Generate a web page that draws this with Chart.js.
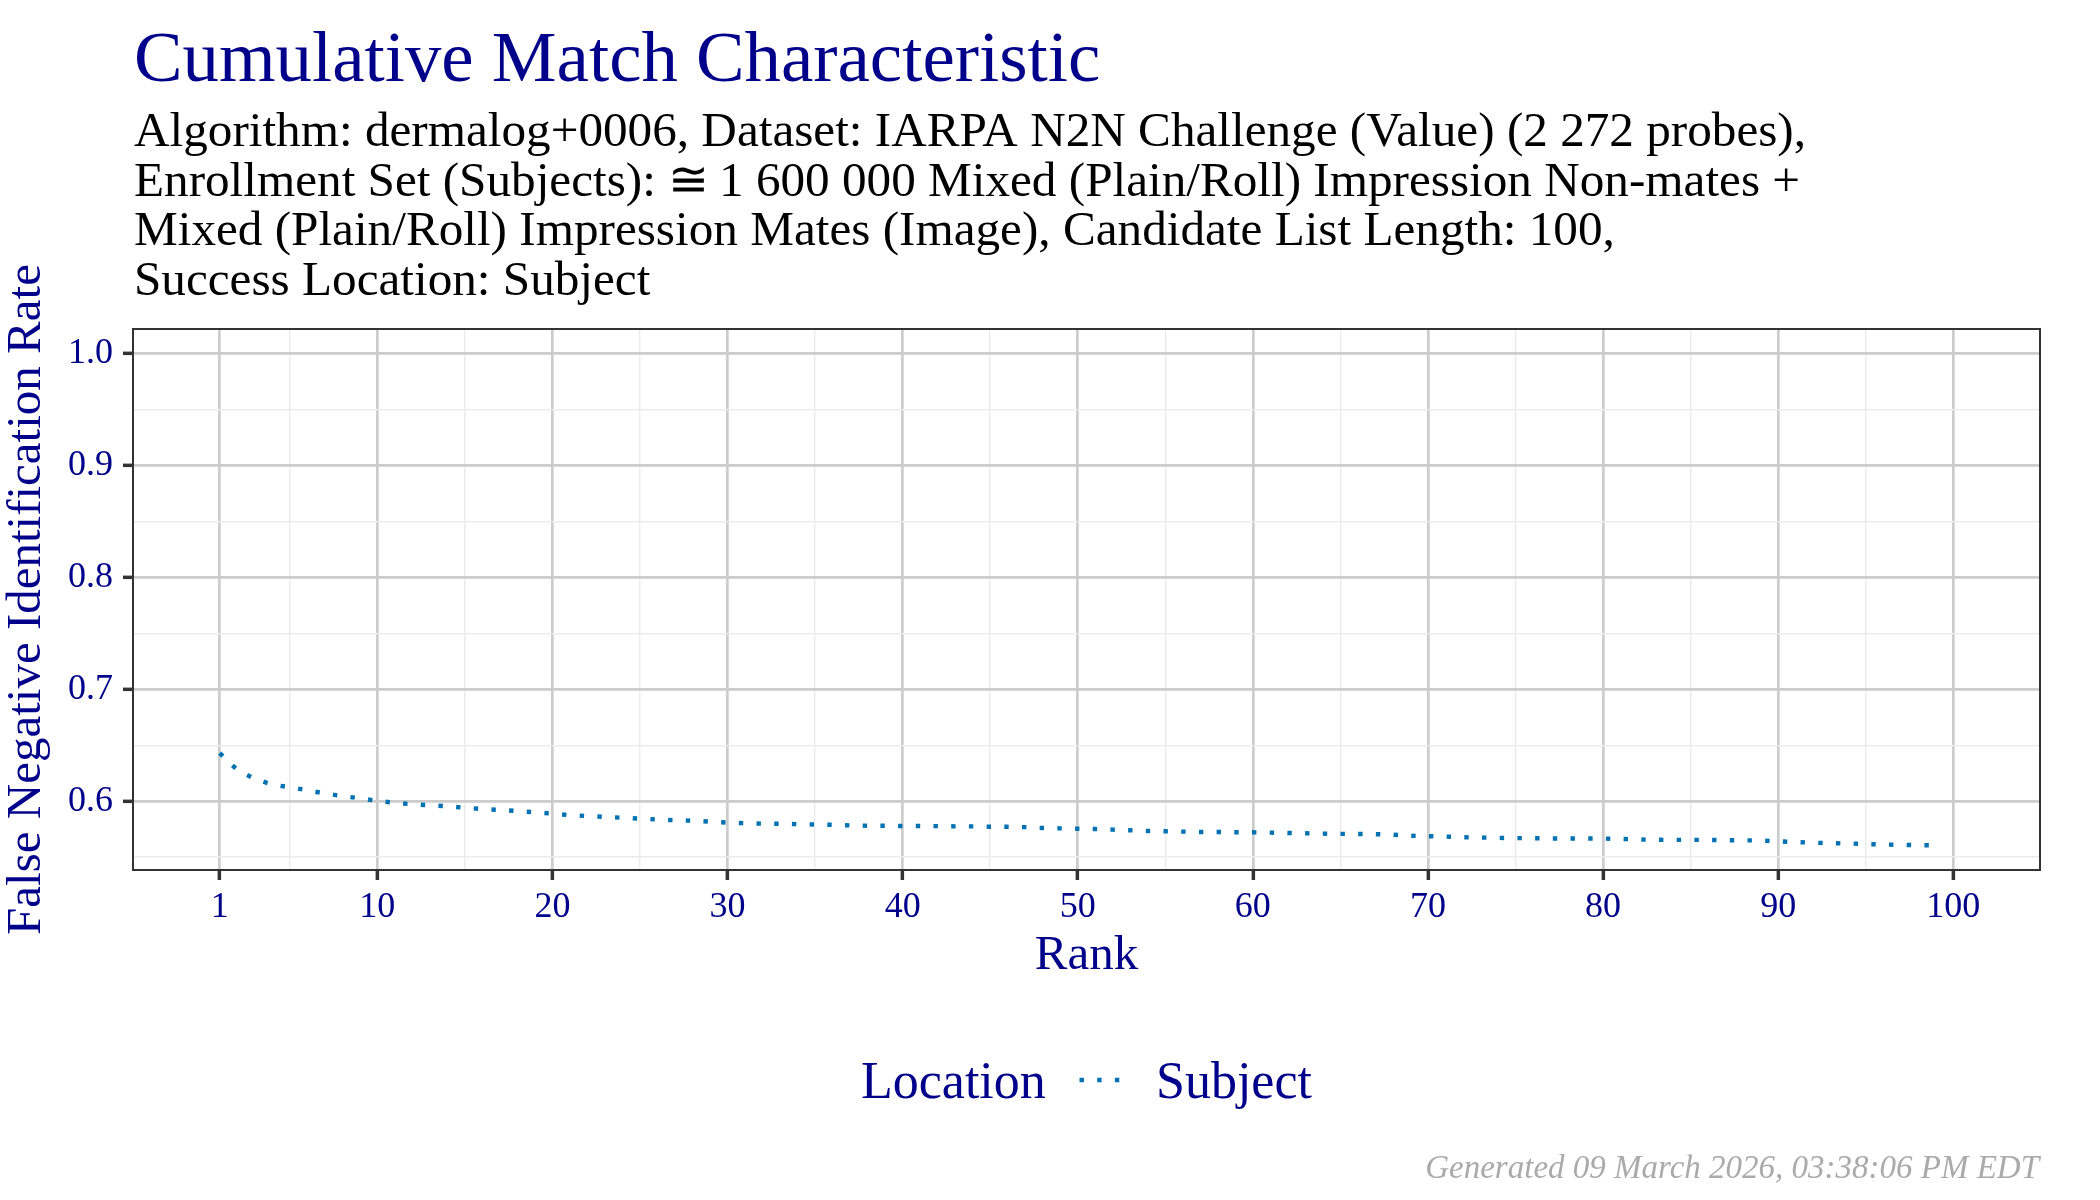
<!DOCTYPE html>
<html><head><meta charset="utf-8">
<script src="https://cdn.jsdelivr.net/npm/chart.js@4.4.1/dist/chart.umd.min.js"></script>
<style>html,body{margin:0;padding:0;background:#fff;} canvas{display:block;}</style>
</head><body>
<canvas id="c" width="2100" height="1200"></canvas>
<script>
const TITLE = "Cumulative Match Characteristic";
const SUBTITLE_LINES = [
  "Algorithm: dermalog+0006, Dataset: IARPA N2N Challenge (Value) (2 272 probes),",
  "Enrollment Set (Subjects): \u2245\u20091 600 000 Mixed (Plain/Roll) Impression Non-mates +",
  "Mixed (Plain/Roll) Impression Mates (Image), Candidate List Length: 100,",
  "Success Location: Subject"
];
const FOOTER = "Generated 09 March 2026, 03:38:06 PM EDT";
const X_LABEL = "Rank";
const Y_LABEL = "False Negative Identification Rate";
const LEGEND_TITLE = "Location";
const SERIES_NAME = "Subject";

const RANKS = [1,2,3,4,5,6,7,8,9,10,11,12,13,14,15,16,17,18,19,20,
  21,22,23,24,25,26,27,28,29,30,31,32,33,34,35,36,37,38,39,40,
  41,42,43,44,45,46,47,48,49,50,51,52,53,54,55,56,57,58,59,60,
  61,62,63,64,65,66,67,68,69,70,71,72,73,74,75,76,77,78,79,80,
  81,82,83,84,85,86,87,88,89,90,91,92,93,94,95,96,97,98,99];
const FNIR = [0.643,0.628,0.620,0.6148,0.6125,0.6097,0.607,0.6045,0.6026,0.6003,
  0.5985,0.5973,0.5964,0.5955,0.5941,0.593,0.5922,0.5913,0.590,0.5889,
  0.5875,0.5867,0.586,0.5852,0.5844,0.5836,0.583,0.5826,0.5818,0.5809,
  0.5803,0.5799,0.5798,0.5795,0.5792,0.5789,0.5784,0.5781,0.578,0.5778,
  0.5778,0.5777,0.5775,0.5775,0.5772,0.5771,0.5768,0.576,0.5757,0.5754,
  0.5751,0.5746,0.574,0.5734,0.5731,0.5728,0.5725,0.5725,0.5722,0.5722,
  0.5719,0.5716,0.5713,0.571,0.5708,0.5707,0.5705,0.5701,0.5691,0.5687,
  0.5684,0.5678,0.5675,0.5672,0.567,0.5669,0.5667,0.5666,0.5666,0.5666,
  0.5663,0.5658,0.5655,0.5654,0.5654,0.5654,0.5651,0.565,0.5649,0.5641,
  0.5635,0.5629,0.5625,0.5622,0.5617,0.5613,0.561,0.5607,0.5605];

const X_MAJOR_TICKS = [1,10,20,30,40,50,60,70,80,90,100];
const X_MINOR_TICKS = [5,15,25,35,45,55,65,75,85,95];
const Y_MAJOR_TICKS = [0.6,0.7,0.8,0.9,1.0];
const Y_MINOR_TICKS = [0.55,0.65,0.75,0.85,0.95];

const FONT = "'Liberation Serif', 'Times New Roman', serif";
const NAVY = '#00008B';
const LINE_COLOR = '#0072B2';
const DASH = [4.4, 13.3];

const isMajor = (list, v) => list.some(t => Math.abs(t - v) < 1e-9);

const textPlugin = {
  id: 'textPlugin',
  afterDraw(chart) {
    const ctx = chart.ctx;
    const a = chart.chartArea;
    ctx.save();
    ctx.strokeStyle = '#333333';
    ctx.lineWidth = 2;
    ctx.strokeRect(a.left, a.top, a.right - a.left, a.bottom - a.top);
    ctx.textAlign = 'left';
    ctx.textBaseline = 'alphabetic';
    ctx.fillStyle = NAVY;
    ctx.font = `72.8px ${FONT}`;
    ctx.fillText(TITLE, 134, 81);
    ctx.fillStyle = '#000000';
    ctx.font = `49.2px ${FONT}`;
    SUBTITLE_LINES.forEach((l, i) => ctx.fillText(l, 134, 146 + i * 49.5));
    ctx.fillStyle = NAVY;
    ctx.font = `52px ${FONT}`;
    ctx.fillText(LEGEND_TITLE, 861, 1098);
    ctx.fillText(SERIES_NAME, 1156, 1098);
    ctx.strokeStyle = LINE_COLOR;
    ctx.lineWidth = 4.4;
    ctx.setLineDash(DASH);
    ctx.beginPath();
    ctx.moveTo(1079.5, 1080);
    ctx.lineTo(1122, 1080);
    ctx.stroke();
    ctx.setLineDash([]);
    ctx.textAlign = 'right';
    ctx.fillStyle = '#aaaaaa';
    ctx.font = `italic 33px ${FONT}`;
    ctx.fillText(FOOTER, 2039, 1178);
    ctx.restore();
  }
};

new Chart(document.getElementById('c'), {
  type: 'line',
  data: {
    datasets: [{
      label: SERIES_NAME,
      data: RANKS.map((r, i) => ({x: r, y: FNIR[i]})),
      borderColor: LINE_COLOR,
      borderWidth: 4.4,
      borderDash: DASH,
      pointRadius: 0,
      tension: 0,
      fill: false
    }]
  },
  options: {
    responsive: false,
    animation: false,
    devicePixelRatio: 1,
    layout: { padding: { top: 329, right: 60, bottom: 217, left: 0 } },
    plugins: { legend: { display: false }, title: { display: false }, tooltip: { enabled: false } },
    scales: {
      x: {
        type: 'linear',
        min: -3.95, max: 104.95,
        afterBuildTicks: s => { s.ticks = X_MAJOR_TICKS.concat(X_MINOR_TICKS).sort((p, q) => p - q).map(v => ({value: v})); },
        afterFit: s => { s.height = 113; },
        border: { display: false },
        grid: {
          color: c => isMajor(X_MAJOR_TICKS, c.tick.value) ? '#cccccc' : '#ebebeb',
          lineWidth: c => isMajor(X_MAJOR_TICKS, c.tick.value) ? 2.7 : 1.4,
          tickColor: c => isMajor(X_MAJOR_TICKS, c.tick.value) ? '#333333' : 'rgba(0,0,0,0)',
          tickLength: 10,
          tickWidth: 3.5,
          drawTicks: true
        },
        ticks: {
          autoSkip: false, maxRotation: 0,
          color: NAVY,
          font: { family: FONT, size: 36 },
          padding: 6,
          callback: v => isMajor(X_MAJOR_TICKS, v) ? String(v) : ''
        },
        title: { display: true, text: X_LABEL, color: NAVY, font: { family: FONT, size: 49, lineHeight: 1.1 }, padding: 0 }
      },
      y: {
        type: 'linear',
        min: 0.5385, max: 1.022,
        afterBuildTicks: s => { s.ticks = Y_MAJOR_TICKS.concat(Y_MINOR_TICKS).sort((p, q) => p - q).map(v => ({value: v})); },
        afterFit: s => { s.width = 133; },
        border: { display: false },
        grid: {
          color: c => isMajor(Y_MAJOR_TICKS, c.tick.value) ? '#cccccc' : '#ebebeb',
          lineWidth: c => isMajor(Y_MAJOR_TICKS, c.tick.value) ? 2.7 : 1.4,
          tickColor: c => isMajor(Y_MAJOR_TICKS, c.tick.value) ? '#333333' : 'rgba(0,0,0,0)',
          tickLength: 10,
          tickWidth: 3.5,
          drawTicks: true
        },
        ticks: {
          autoSkip: false,
          color: NAVY,
          font: { family: FONT, size: 36 },
          padding: 10,
          callback: v => isMajor(Y_MAJOR_TICKS, v) ? v.toFixed(1) : ''
        },
        title: { display: true, text: Y_LABEL, color: NAVY, font: { family: FONT, size: 49, lineHeight: 1.1 }, padding: 0 }
      }
    }
  },
  plugins: [textPlugin]
});
</script>
</body></html>
